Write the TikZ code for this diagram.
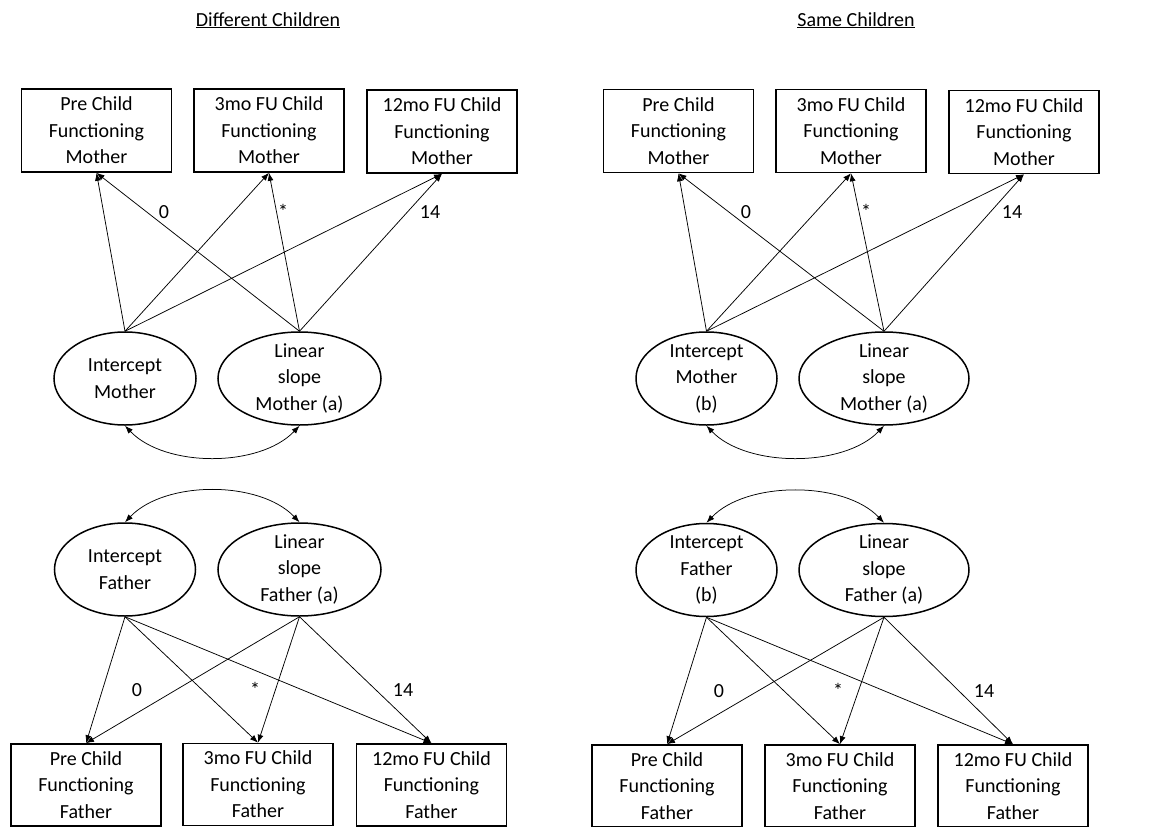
\documentclass[tikz,border=0pt]{standalone}
\usepackage{fontspec}
\setmainfont{Carlito}
\usetikzlibrary{shapes.geometric,arrows.meta}
\newcommand\fsz{\fontsize{20}{26.5}\selectfont}
\begin{document}
\begin{tikzpicture}[x=1pt,y=-1pt,
  obs/.style={draw, line width=1.6pt, minimum width=150pt, minimum height=83pt, inner sep=0pt, align=center, font=\fsz},
  lat/.style={draw, ellipse, line width=1.5pt, inner sep=0pt, minimum height=93pt},
  lt/.style={align=center, font=\fsz, inner sep=0pt},
  arr/.style={-{Latex[length=8pt,width=6pt]}, line width=0.75pt},
  cov/.style={{Latex[length=8pt,width=6pt]}-{Latex[length=8pt,width=6pt]}, line width=0.75pt},
  lab/.style={anchor=base, font=\fsz, inner sep=0pt},
  ttl/.style={anchor=base, font=\fsz, inner sep=0pt}]
\useasboundingbox (0,0) rectangle (1157,827);

% ---------------- Left panel: Different Children
\node[ttl] (t1) at (268,26) {\underline{Different Children}};

\node[obs] (a_pm1) at (96.5,130.5) {Pre Child\\Functioning\\Mother};
\node[obs] (a_pm2) at (269,130.5) {3mo FU Child\\Functioning\\Mother};
\node[obs] (a_pm3) at (442,131.5) {12mo FU Child\\Functioning\\Mother};

\node[lat, minimum width=142pt, label={[lt]center:Intercept\\Mother}] (a_im) at (125,378.5) {};
\node[lat, minimum width=163pt, label={[lt]center:Linear\\slope\\Mother (a)}] (a_sm) at (299.5,378.5) {};

\draw[arr] (a_im.north) -- (a_pm1.south);
\draw[arr] (a_im.north) -- (a_pm2.south);
\draw[arr] (a_im.north) -- (a_pm3.south);
\draw[arr] (a_sm.north) -- (a_pm1.south);
\draw[arr] (a_sm.north) -- (a_pm2.south);
\draw[arr] (a_sm.north) -- (a_pm3.south);

\node[lab] (a_l0) at (164,218) {0};
\node[lab] (a_l1) at (283,218) {*};
\node[lab] (a_l2) at (430,218) {14};

\draw[cov] (a_im.south) .. controls +(40,42) and +(-40,42) .. (a_sm.south);

\node[lat, minimum width=141pt, label={[lt]center:Intercept\\Father}] (a_if) at (125,569.5) {};
\node[lat, minimum width=163pt, label={[lt]center:Linear\\slope\\Father (a)}] (a_sf) at (299.5,569.5) {};

\draw[cov] (a_if.north) .. controls +(40,-42) and +(-40,-42) .. (a_sf.north);

\node[obs, minimum height=82pt] (a_pf1) at (86,785) {Pre Child\\Functioning\\Father};
\node[obs, minimum height=82pt] (a_pf2) at (258,784.5) {3mo FU Child\\Functioning\\Father};
\node[obs, minimum height=82pt] (a_pf3) at (431.5,785) {12mo FU Child\\Functioning\\Father};

\draw[arr] (a_if.south) -- (a_pf1.north);
\draw[arr] (a_if.south) -- (a_pf2.north);
\draw[arr] (a_if.south) -- (a_pf3.north);
\draw[arr] (a_sf.south) -- (a_pf1.north);
\draw[arr] (a_sf.south) -- (a_pf2.north);
\draw[arr] (a_sf.south) -- (a_pf3.north);

\node[lab] (a_m0) at (137,696) {0};
\node[lab] (a_m1) at (255,696) {*};
\node[lab] (a_m2) at (403,696) {14};

% ---------------- Right panel: Same Children
\node[ttl] (t2) at (856,26) {\underline{Same Children}};

\node[obs] (b_pm1) at (678.5,131) {Pre Child\\Functioning\\Mother};
\node[obs] (b_pm2) at (851,131) {3mo FU Child\\Functioning\\Mother};
\node[obs] (b_pm3) at (1024,132) {12mo FU Child\\Functioning\\Mother};

\node[lat, minimum width=141pt, label={[lt]center:Intercept\\Mother\\(b)}] (b_im) at (706.5,378.5) {};
\node[lat, minimum width=170pt, label={[lt]center:Linear\\slope\\Mother (a)}] (b_sm) at (884,378.5) {};

\draw[arr] (b_im.north) -- (b_pm1.south);
\draw[arr] (b_im.north) -- (b_pm2.south);
\draw[arr] (b_im.north) -- (b_pm3.south);
\draw[arr] (b_sm.north) -- (b_pm1.south);
\draw[arr] (b_sm.north) -- (b_pm2.south);
\draw[arr] (b_sm.north) -- (b_pm3.south);

\node[lab] (b_l0) at (746,218) {0};
\node[lab] (b_l1) at (866,218) {*};
\node[lab] (b_l2) at (1012,218) {14};

\draw[cov] (b_im.south) .. controls +(40,42) and +(-40,42) .. (b_sm.south);

\node[lat, minimum width=141pt, label={[lt]center:Intercept\\Father\\(b)}] (b_if) at (706.5,570) {};
\node[lat, minimum width=170pt, label={[lt]center:Linear\\slope\\Father (a)}] (b_sf) at (884,570) {};

\draw[cov] (b_if.north) .. controls +(40,-42) and +(-40,-42) .. (b_sf.north);

\node[obs, minimum height=82pt] (b_pf1) at (667,786) {Pre Child\\Functioning\\Father};
\node[obs, minimum height=82pt] (b_pf2) at (840,786) {3mo FU Child\\Functioning\\Father};
\node[obs, minimum height=82pt] (b_pf3) at (1013,786) {12mo FU Child\\Functioning\\Father};

\draw[arr] (b_if.south) -- (b_pf1.north);
\draw[arr] (b_if.south) -- (b_pf2.north);
\draw[arr] (b_if.south) -- (b_pf3.north);
\draw[arr] (b_sf.south) -- (b_pf1.north);
\draw[arr] (b_sf.south) -- (b_pf2.north);
\draw[arr] (b_sf.south) -- (b_pf3.north);

\node[lab] (b_m0) at (719,697) {0};
\node[lab] (b_m1) at (838,697) {*};
\node[lab] (b_m2) at (984,697) {14};
\end{tikzpicture}
\end{document}
